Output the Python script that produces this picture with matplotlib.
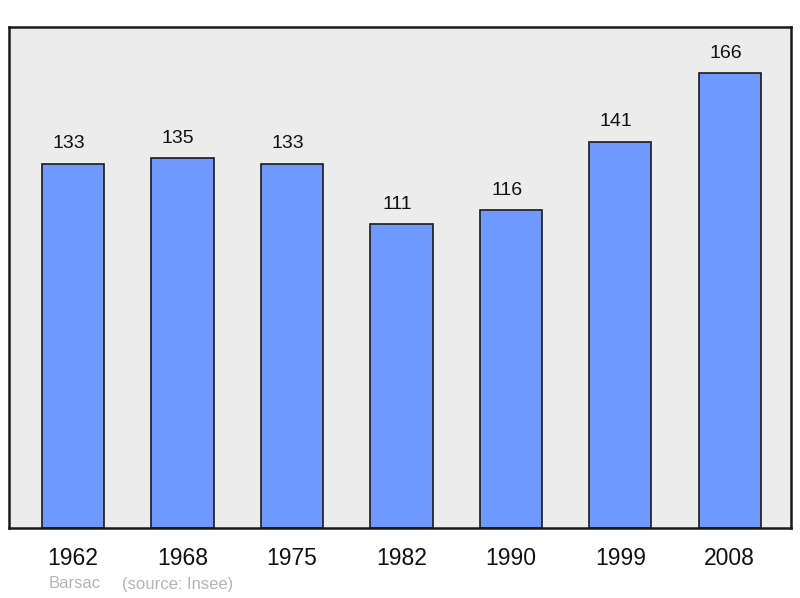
import matplotlib.pyplot as plt

years = ['1962', '1968', '1975', '1982', '1990', '1999', '2008']
population = [133, 135, 133, 111, 116, 141, 166]
town = 'Barsac'
source = '(source: Insee)'

plt.rcParams['font.family'] = ['Liberation Sans', 'DejaVu Sans']

fig = plt.figure(figsize=(8, 5.98), dpi=100)
ax = fig.add_axes([0.01125, 0.117, 0.9775, 0.8378])
ax.set_facecolor('#ececec')

x = list(range(len(years)))
bars = ax.bar(x, population, width=0.57, color='#7099ff',
              edgecolor='#1a1a1a', linewidth=1.2, zorder=2)
# value labels sit a little left of the bar centre, as in the original
for xi, v in zip(x, population):
    ax.annotate(str(v), (xi, v), xytext=(-3, 8), textcoords='offset points',
                ha='center', va='bottom', fontsize=14, color='#111111')

ax.set_xlim(-0.585, 6.56)
ax.set_ylim(0, 182.8)
ax.set_yticks([])
ax.set_xticks(x)
ax.set_xticklabels(years, fontsize=16.5, color='#111111')
ax.tick_params(axis='x', length=0, pad=14)
for s in ax.spines.values():
    s.set_linewidth(1.8)
    s.set_color('#1a1a1a')

fig.text(49 / 800, 1 - 584 / 598, town, fontsize=12, color='#b4b4b4', va='center')
fig.text(122 / 800, 1 - 584 / 598, source, fontsize=12, color='#b4b4b4', va='center')

fig.savefig('out.png', dpi=100)
